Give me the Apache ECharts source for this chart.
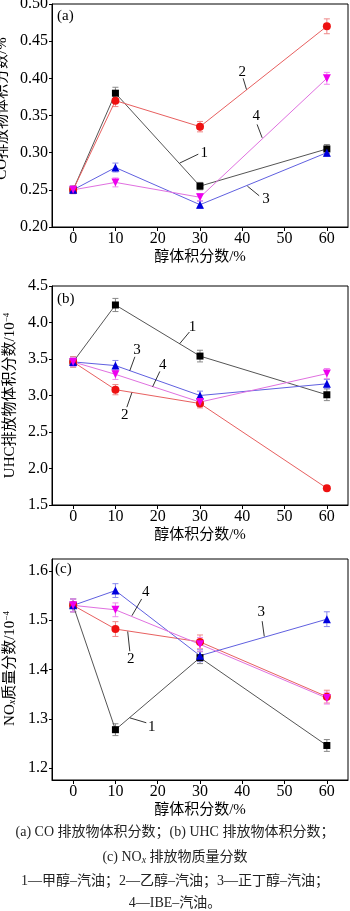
<!DOCTYPE html>
<html>
<head>
<meta charset="utf-8">
<script src="https://cdn.jsdelivr.net/npm/echarts@6/dist/echarts.min.js"></script>
<style>html,body{margin:0;padding:0;background:#fff}#main{width:350px;height:911px}</style>
</head>
<body>
<div id="main"></div>
<script>
var alcohol = [0, 10, 30, 60]; // 醇体积分数/%
var xTicks = [0, 10, 20, 30, 40, 50, 60];

// (a) CO 排放物体积分数/%
var co1 = [0.250, 0.380, 0.255, 0.305];
var co2 = [0.250, 0.370, 0.335, 0.470];
var co3 = [0.250, 0.280, 0.230, 0.300];
var co4 = [0.250, 0.260, 0.240, 0.400];
var coErr1 = [0.005, 0.008, 0.005, 0.006];
var coErr2 = [0.005, 0.008, 0.007, 0.010];
var coErr3 = [0.005, 0.006, 0.005, 0.005];
var coErr4 = [0.005, 0.006, 0.005, 0.008];

// (b) UHC 排放物体积分数/10^-4
var uhc1 = [3.46, 4.24, 3.54, 3.01];
var uhc2 = [3.46, 3.08, 2.89, 1.73];
var uhc3 = [3.46, 3.41, 3.00, 3.16];
var uhc4 = [3.46, 3.29, 2.91, 3.30];
var uhcErr1 = [0.07, 0.09, 0.08, 0.08];
var uhcErr2 = [0.07, 0.07, 0.06, 0.02];
var uhcErr3 = [0.06, 0.07, 0.06, 0.06];
var uhcErr4 = [0.06, 0.07, 0.06, 0.07];

// (c) NOx 质量分数/10^-4
var nox1 = [1.530, 1.278, 1.424, 1.246];
var nox2 = [1.530, 1.482, 1.456, 1.345];
var nox3 = [1.530, 1.560, 1.428, 1.502];
var nox4 = [1.530, 1.521, 1.451, 1.342];
var noxErr1 = [0.013, 0.012, 0.012, 0.012];
var noxErr2 = [0.013, 0.015, 0.014, 0.013];
var noxErr3 = [0.013, 0.014, 0.012, 0.015];
var noxErr4 = [0.013, 0.014, 0.014, 0.012];
var noxTicks = [1.2, 1.3, 1.4, 1.5, 1.6];

// 曲线编号标注: [编号, 文字位置, 引线起点, 引线终点] (数据坐标)
var annA = [
	['2', [40.0, 0.409], [40.2, 0.400], [41.0, 0.385]],
	['4', [43.3, 0.349], [43.5, 0.338], [44.7, 0.320]],
	['1', [31.0, 0.300], [29.6, 0.298], [25.2, 0.286]],
	['3', [45.6, 0.238], [44.0, 0.242], [41.2, 0.255]]
];
var annB = [
	['1', [28.2, 3.94], [27.5, 3.87], [25.2, 3.71]],
	['3', [15.1, 3.62], [14.6, 3.53], [13.4, 3.34]],
	['4', [21.2, 3.42], [20.5, 3.33], [18.8, 3.12]],
	['2', [12.2, 2.73], [12.7, 2.84], [13.9, 3.04]]
];
var annC = [
	['4', [17.2, 1.556], [16.2, 1.543], [13.9, 1.509]],
	['2', [13.6, 1.422], [13.4, 1.437], [12.9, 1.477]],
	['3', [44.5, 1.516], [44.7, 1.498], [45.2, 1.467]],
	['1', [18.6, 1.284], [17.3, 1.292], [13.4, 1.302]]
];

var serif = "'Liberation Serif','Noto Sans CJK SC'";
var markColors = ['#000000', '#ee1111', '#0000dd', '#ee00ee'];
var lineColors = ['#555555', '#e86060', '#6060e0', '#e070e0'];
var errColors = ['#888888', '#ee8888', '#8888ee', '#ee88ee'];
var symbols = ['rect', 'circle', 'triangle', 'triangle'];
var sizes = [7, 8, 8, 8];
var rotates = [0, 0, 0, 180];

var myChart = echarts.init(document.getElementById('main'));

function errorBar(params, api) {
	var x = api.value(0);
	var top = api.coord([x, api.value(2)]);
	var bot = api.coord([x, api.value(1)]);
	var w = 3;
	var st = { stroke: api.visual('color'), lineWidth: 1 };
	return {
		type: 'group',
		children: [
			{ type: 'line', shape: { x1: top[0], y1: top[1], x2: bot[0], y2: bot[1] }, style: st },
			{ type: 'line', shape: { x1: top[0] - w, y1: top[1], x2: top[0] + w, y2: top[1] }, style: st },
			{ type: 'line', shape: { x1: bot[0] - w, y1: bot[1], x2: bot[0] + w, y2: bot[1] }, style: st }
		]
	};
}

var series = [];
function addPanel(idx, vals, errs, ann) {
	for (var k = 0; k < 4; k++) {
		var v = vals[k], e = errs[k];
		series.push({
			type: 'custom',
			xAxisIndex: idx, yAxisIndex: idx,
			renderItem: errorBar,
			itemStyle: { color: errColors[k] },
			encode: { x: 0, y: [1, 2] },
			data: alcohol.map(function (x, i) { return [x, v[i] - e[i], v[i] + e[i]]; }),
			z: 2
		});
		var s = {
			type: 'line',
			xAxisIndex: idx, yAxisIndex: idx,
			data: alcohol.map(function (x, i) { return [x, v[i]]; }),
			symbol: symbols[k],
			symbolSize: sizes[k],
			symbolRotate: rotates[k],
			showSymbol: true,
			lineStyle: { color: lineColors[k], width: 1 },
			itemStyle: { color: markColors[k], borderWidth: 0 },
			z: 3
		};
		if (k === 0) {
			s.markLine = {
				silent: true,
				symbol: ['none', 'none'],
				label: { show: false },
				lineStyle: { color: '#000', width: 0.8, type: 'solid' },
				data: ann.map(function (a) { return [{ coord: a[2] }, { coord: a[3] }]; })
			};
			s.markPoint = {
				silent: true,
				symbol: 'circle',
				symbolSize: 0,
				label: { show: true, formatter: '{b}', color: '#000', fontFamily: serif, fontSize: 15 },
				data: ann.map(function (a) { return { name: a[0], coord: a[1] }; })
			};
		}
		series.push(s);
	}
}
addPanel(0, [co1, co2, co3, co4], [coErr1, coErr2, coErr3, coErr4], annA);
addPanel(1, [uhc1, uhc2, uhc3, uhc4], [uhcErr1, uhcErr2, uhcErr3, uhcErr4], annB);
addPanel(2, [nox1, nox2, nox3, nox4], [noxErr1, noxErr2, noxErr3, noxErr4], annC);

var grids = [
	{ left: 52, top: 4, width: 296, height: 223 },
	{ left: 52, top: 286, width: 296, height: 219 },
	{ left: 52, top: 559, width: 296, height: 221 }
];
grids.forEach(function (g) {
	g.show = true; g.borderColor = '#000'; g.borderWidth = 1; g.backgroundColor = 'transparent';
	g.containLabel = false; g.outerBoundsMode = 'none';
});

var xAxes = [0, 1, 2].map(function (i) {
	return {
		type: 'value', gridIndex: i, min: -5, max: 65,
		axisLine: { show: true, onZero: false, lineStyle: { color: '#000', width: 1 } },
		axisTick: { show: true, length: 4, customValues: xTicks, lineStyle: { color: '#000' } },
		axisLabel: { customValues: xTicks, color: '#000', fontFamily: serif, fontSize: 16, margin: 4 },
		splitLine: { show: false },
		name: '醇体积分数/%', nameLocation: 'middle', nameGap: 23,
		nameTextStyle: { color: '#000', fontFamily: serif, fontSize: 15 }
	};
});

function yAxis(i, min, max, ticks, dec, name, gap, pad, rich) {
	return {
		type: 'value', gridIndex: i, min: min, max: max,
		axisLine: { show: true, onZero: false, lineStyle: { color: '#000', width: 1 } },
		axisTick: { show: true, length: 3, customValues: ticks, lineStyle: { color: '#000' } },
		axisLabel: {
			customValues: ticks, color: '#000', fontFamily: serif, fontSize: 16, margin: 4,
			formatter: function (v) { return v.toFixed(dec); }
		},
		splitLine: { show: false },
		name: name, nameLocation: 'middle', nameGap: gap,
		nameTextStyle: { color: '#000', fontFamily: serif, fontSize: 15, padding: pad, rich: rich }
	};
}
var supRich = {
	a: { color: '#000', fontFamily: serif, fontSize: 15 },
	s: { color: '#000', fontFamily: serif, fontSize: 9, verticalAlign: 'top', padding: [0, 0, 6, 0] },
	x: { color: '#000', fontFamily: serif, fontSize: 10, fontStyle: 'italic', verticalAlign: 'bottom', padding: [5, 0, 0, 0] }
};
var yAxes = [
	yAxis(0, 0.2, 0.5, [0.2, 0.25, 0.3, 0.35, 0.4, 0.45, 0.5], 2, 'CO排放物体积分数/%', 37, [0, 0, 0, 14], null),
	yAxis(1, 1.5, 4.5, [1.5, 2.0, 2.5, 3.0, 3.5, 4.0, 4.5], 1, '{a|UHC排放物体积分数/10}{s|−4}', 29, [0, 0, 0, 0], supRich),
	yAxis(2, 1.176, 1.624, noxTicks, 1, '{a|NO}{x|x}{a|质量分数/10}{s|−4}', 34, [0, 0, 0, 2], supRich)
];

var capFont = "14px 'Liberation Serif','Noto Sans CJK SC'";
var capRich = {
	sub: { font: "italic 10px 'Liberation Serif'", fill: '#222', verticalAlign: 'bottom', padding: [6, 0, 0, 0] }
};
function capLine(y, text) {
	return {
		type: 'text', x: 175, y: y, silent: true,
		style: { text: text, font: capFont, fill: '#222', align: 'center', verticalAlign: 'middle', rich: capRich }
	};
}

myChart.setOption({
	animation: false,
	backgroundColor: '#fff',
	title: [
		{ text: '(a)', left: 57, top: 9 },
		{ text: '(b)', left: 57, top: 292 },
		{ text: '(c)', left: 55, top: 562 }
	].map(function (t) {
		t.padding = 0;
		t.textStyle = { color: '#000', fontFamily: serif, fontSize: 15, fontWeight: 'normal' };
		return t;
	}),
	grid: grids,
	xAxis: xAxes,
	yAxis: yAxes,
	series: series,
	graphic: [
		capLine(832, '(a) CO 排放物体积分数；(b) UHC 排放物体积分数；'),
		capLine(857, '(c) NO{sub|x} 排放物质量分数'),
		capLine(881, '1—甲醇–汽油；2—乙醇–汽油；3—正丁醇–汽油；'),
		capLine(903, '4—IBE–汽油。')
	]
});
</script>
</body>
</html>
